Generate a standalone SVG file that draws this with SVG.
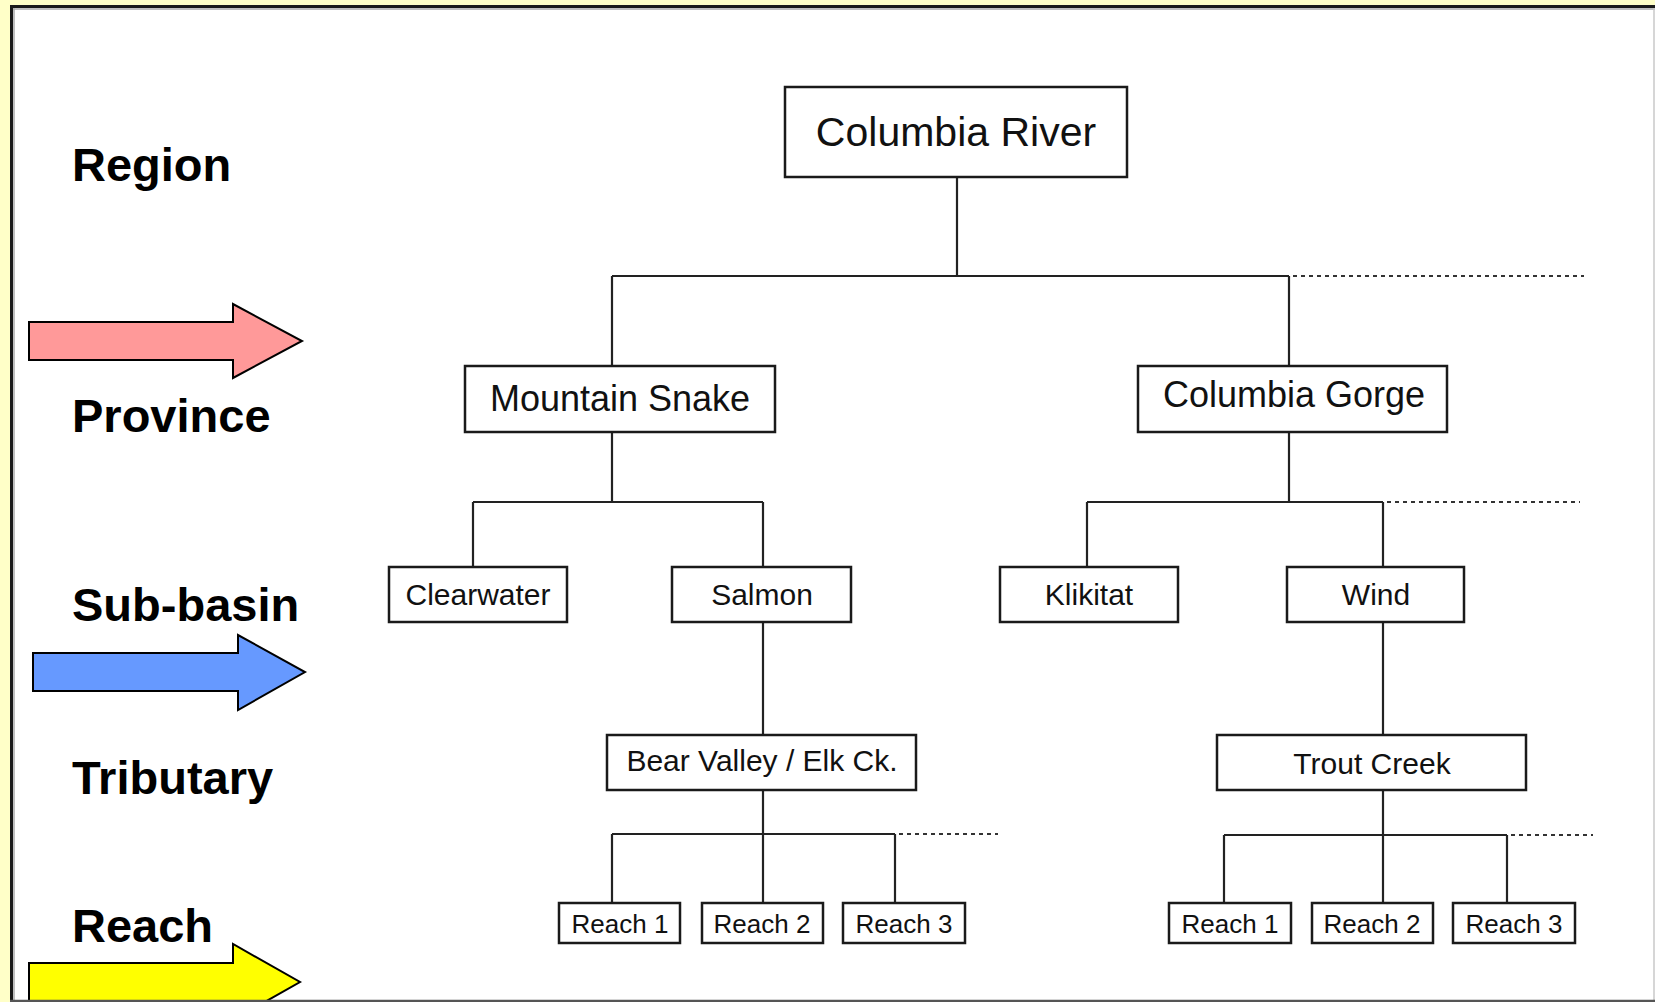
<svg xmlns="http://www.w3.org/2000/svg" width="1655" height="1002" viewBox="0 0 1655 1002">
<style>
.lvl{font-family:"Liberation Sans",Arial,sans-serif;font-weight:bold;font-size:47px;fill:#000}
.box{fill:#fff;stroke:#1a1a1a;stroke-width:2.5}
.t{font-family:"Liberation Sans",Arial,sans-serif;fill:#111;text-anchor:middle}
.t41{font-size:41px}.t36{font-size:36px}.t30{font-size:30px}.t26{font-size:26px}
.ln{stroke:#222;stroke-width:2.2;fill:none}
.dot{stroke:#333;stroke-width:2;stroke-dasharray:4 4;fill:none}
.arr{stroke:#000;stroke-width:2;stroke-linejoin:miter}
</style>
<defs>
<clipPath id="panel"><rect x="10" y="5" width="1645" height="995"/></clipPath>
</defs>
<rect x="0" y="0" width="1655" height="1002" fill="#FFFFC8"/>
<g id="frame">
<rect x="10" y="5" width="1645" height="995" fill="#fff"/>
<line x1="10" y1="6.5" x2="1655" y2="6.5" stroke="#1a1a1a" stroke-width="3"/>
<line x1="11.5" y1="5" x2="11.5" y2="1000" stroke="#1a1a1a" stroke-width="3"/>
<line x1="13" y1="9" x2="1655" y2="9" stroke="#aaa" stroke-width="1.5"/>
<line x1="14" y1="8" x2="14" y2="1000" stroke="#aaa" stroke-width="1.5"/>
<line x1="1654" y1="8" x2="1654" y2="1000" stroke="#c8c8c8" stroke-width="1.5"/>
</g>
<g id="level-arrows">
<polygon class="arr" fill="#FF9999" points="29,322 233,322 233,304 302,341 233,378 233,360 29,360"/>
<polygon class="arr" fill="#6699FF" points="33,653 238,653 238,635 305,672 238,710 238,691 33,691"/>
<polygon class="arr" fill="#FFFF00" clip-path="url(#panel)" points="29,963 233,963 233,944 300,982 233,1020 233,1001 29,1001"/>
</g>
<line x1="10" y1="1001" x2="1655" y2="1001" stroke="#555" stroke-width="2.5"/>
<g id="level-labels">
<text class="lvl" x="72" y="181">Region</text>
<text class="lvl" x="72" y="432">Province</text>
<text class="lvl" x="72" y="621">Sub-basin</text>
<text class="lvl" x="72" y="794">Tributary</text>
<text class="lvl" x="72" y="942">Reach</text>
</g>
<g id="connectors">
<path class="ln" d="M957,177 V276 M612,276 H1289 M612,276 V366 M1289,276 V366"/>
<path class="ln" d="M612,432 V502 M473,502 H763 M473,502 V567 M763,502 V567"/>
<path class="ln" d="M1289,432 V502 M1087,502 H1383 M1087,502 V567 M1383,502 V567"/>
<path class="ln" d="M763,622 V735 M1383,622 V735"/>
<path class="ln" d="M763,790 V834 M612,834 H895 M612,834 V903 M763,834 V903 M895,834 V903"/>
<path class="ln" d="M1383,790 V835 M1224,835 H1507 M1224,835 V903 M1383,835 V903 M1507,835 V903"/>
<path class="dot" d="M1293,276 H1584 M1387,502 H1580 M899,834 H998 M1511,835 H1593"/>
</g>
<g id="node-columbia-river"><rect class="box" x="785" y="87" width="342" height="90"/><text class="t t41" x="956" y="146">Columbia River</text></g>
<g id="node-mountain-snake"><rect class="box" x="465" y="366" width="310" height="66"/><text class="t t36" x="620" y="411">Mountain Snake</text></g>
<g id="node-columbia-gorge"><rect class="box" x="1138" y="366" width="309" height="66"/><text class="t t36" x="1294" y="407">Columbia Gorge</text></g>
<g id="node-clearwater"><rect class="box" x="389" y="567" width="178" height="55"/><text class="t t30" x="478" y="605">Clearwater</text></g>
<g id="node-salmon"><rect class="box" x="672" y="567" width="179" height="55"/><text class="t t30" x="762" y="605">Salmon</text></g>
<g id="node-klikitat"><rect class="box" x="1000" y="567" width="178" height="55"/><text class="t t30" x="1089" y="605">Klikitat</text></g>
<g id="node-wind"><rect class="box" x="1287" y="567" width="177" height="55"/><text class="t t30" x="1376" y="605">Wind</text></g>
<g id="node-bear-valley"><rect class="box" x="607" y="735" width="309" height="55"/><text class="t t30" x="762" y="771">Bear Valley / Elk Ck.</text></g>
<g id="node-trout-creek"><rect class="box" x="1217" y="735" width="309" height="55"/><text class="t t30" x="1372" y="774">Trout Creek</text></g>
<g id="node-left-reach-1"><rect class="box" x="559" y="903" width="121" height="40"/><text class="t t26" x="620" y="933">Reach 1</text></g>
<g id="node-left-reach-2"><rect class="box" x="702" y="903" width="121" height="40"/><text class="t t26" x="762" y="933">Reach 2</text></g>
<g id="node-left-reach-3"><rect class="box" x="843" y="903" width="122" height="40"/><text class="t t26" x="904" y="933">Reach 3</text></g>
<g id="node-right-reach-1"><rect class="box" x="1169" y="903" width="122" height="40"/><text class="t t26" x="1230" y="933">Reach 1</text></g>
<g id="node-right-reach-2"><rect class="box" x="1312" y="903" width="121" height="40"/><text class="t t26" x="1372" y="933">Reach 2</text></g>
<g id="node-right-reach-3"><rect class="box" x="1453" y="903" width="122" height="40"/><text class="t t26" x="1514" y="933">Reach 3</text></g>
</svg>
